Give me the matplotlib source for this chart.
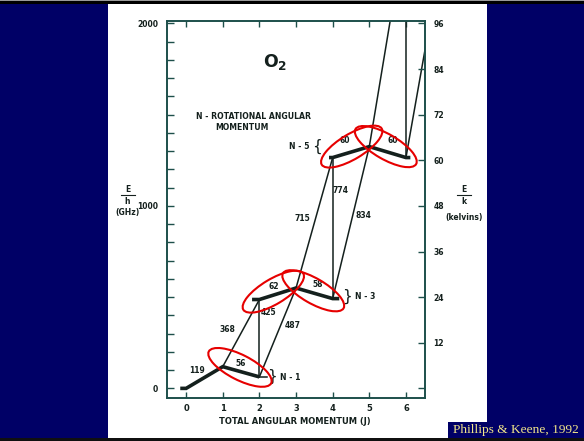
import numpy as np
import matplotlib.pyplot as plt
from matplotlib.patches import Rectangle, Ellipse
from matplotlib.lines import Line2D
from matplotlib.transforms import ScaledTranslation

# O2 rotational levels, E/h in GHz, grouped by N
n1_J = [0, 1, 2]
n1_E = [0, 119, 63]
n3_J = [2, 3, 4]
n3_E = [487, 550, 492]
n5_J = [4, 5, 6]
n5_E = [1265, 1325, 1265]
n7_J = [6, 7]
n7_E = [2535, 2400]          # above the top of the plot

# transitions between N groups: (J_lo, E_lo) -> (J_hi, E_hi)
cross_lo_J = [1, 2, 2, 3, 4, 4, 5, 6, 6]
cross_lo_E = [119, 63, 63, 550, 492, 492, 1325, 1265, 1265]
cross_hi_J = [2, 2, 3, 4, 4, 5, 6, 6, 7]
cross_hi_E = [487, 487, 550, 1265, 1265, 1325, 2535, 2535, 2400]

freq_labels = ["119", "56", "368", "425", "487", "62", "58", "715", "774", "834", "60", "60"]
freq_J = [0.30, 1.50, 1.12, 2.24, 2.91, 2.38, 3.59, 3.17, 4.22, 4.84, 4.32, 5.63]
freq_E = [96, 134, 323, 414, 342, 558, 571, 929, 1082, 947, 1358, 1358]

# red rings: centre (J, GHz) and tilt in degrees
ring_J = [1.47, 2.38, 3.47, 4.52, 5.45]
ring_E = [115, 530, 535, 1325, 1325]
ring_tilt = [-27, 31, -30, 31, -30]

ghz_ticks = [0, 1000, 2000]
kelvin_ticks = [0, 12, 24, 36, 48, 60, 72, 84, 96]
J_ticks = [0, 1, 2, 3, 4, 5, 6]

W, H = 584, 441
NAVY = "#000066"
INK = "#14201d"
SPINE = "#1d4f4a"
BOLD = dict(fontweight="bold", color=INK)

fig = plt.figure(figsize=(W / 100, H / 100), dpi=100, facecolor=NAVY)


def box(x0, y0, x1, y1, color):
    fig.add_artist(Rectangle((x0 / W, 1 - y1 / H), (x1 - x0) / W, (y1 - y0) / H,
                             transform=fig.transFigure, facecolor=color,
                             edgecolor="none", zorder=0))


def ftext(x, y, s, **kw):
    fig.text(x / W, 1 - y / H, s, ha="center", va="center", **kw)


# slide frame
box(0, 0, W, 4, "black")
box(0, 0, W, 1, "#9a9a9a")
box(108, 4, 487, 438, "white")
box(0, 438, W, H, "#101010")
box(448, 422, W, 438, NAVY)
fig.text(453 / W, 1 - 430 / H, "Phillips & Keene, 1992", family="Liberation Serif",
         fontsize=9.6, color="#f2e68a", va="center", ha="left")

ax = fig.add_axes([166.7 / W, 1 - 397.5 / H, (425 - 166.7) / W, (397.5 - 20.7) / H])
ax.set_facecolor("white")
ax.set_xlim(-0.53, 6.52)
ax.set_ylim(-50, 2015)

thick = dict(color=INK, lw=2.6, solid_capstyle="butt", solid_joinstyle="miter")
thin = dict(color=INK, lw=1.1)

# levels inside each N group, with short flat ends
for J, E, lcap, rcap in [(n1_J, n1_E, 0.16, 0.0), (n3_J, n3_E, 0.2, 0.18), (n5_J, n5_E, 0.1, 0.12)]:
    xs = [J[0] - lcap] + list(J) + [J[-1] + rcap]
    ys = [E[0]] + list(E) + [E[-1]]
    ax.plot(xs, ys, **thick)
ax.plot([n1_J[-1], n1_J[-1] + 0.22], [n1_E[-1], n1_E[-1]], **thin)

for j0, e0, j1, e1 in zip(cross_lo_J, cross_lo_E, cross_hi_J, cross_hi_E):
    ax.plot([j0, j1], [e0, e1], **thin)

for s, j, e in zip(freq_labels, freq_J, freq_E):
    ax.text(j, e, s, ha="center", va="center", fontsize=5.5, **BOLD)

ax.text(2.43, 1787, r"$\mathbf{O_2}$", ha="center", va="center", fontsize=12.5, color=INK)
ax.text(1.85, 1491, "N - ROTATIONAL ANGULAR", ha="center", va="center", fontsize=5.6, **BOLD)
ax.text(1.52, 1429, "MOMENTUM", ha="center", va="center", fontsize=5.6, **BOLD)

ax.text(3.08, 1325, "N - 5", ha="center", va="center", fontsize=5.6, **BOLD)
ax.text(3.57, 1325, "{", ha="center", va="center", fontsize=11, color=INK)
ax.text(4.40, 503, "}", ha="center", va="center", fontsize=11, color=INK)
ax.text(4.88, 503, "N - 3", ha="center", va="center", fontsize=5.6, **BOLD)
ax.text(2.34, 64, "}", ha="center", va="center", fontsize=11, color=INK)
ax.text(2.84, 61, "N - 1", ha="center", va="center", fontsize=5.6, **BOLD)

for j, e, t in zip(ring_J, ring_E, ring_tilt):
    tr = fig.dpi_scale_trans + ScaledTranslation(j, e, ax.transData)
    ax.add_patch(Ellipse((0, 0), 0.70, 0.25, angle=t, transform=tr, fill=False,
                         edgecolor="#e60000", lw=1.5, clip_on=False, zorder=5))

for sp in ax.spines.values():
    sp.set_color(SPINE)
    sp.set_linewidth(1.2)

ax.set_xticks(J_ticks)
ax.set_xticklabels([str(j) for j in J_ticks], fontsize=6, **BOLD)
ax.set_yticks(ghz_ticks)
ax.set_yticklabels([str(v) for v in ghz_ticks], fontsize=5.5, **BOLD)
ax.set_yticks(np.arange(100, 2000, 100), minor=True)
ax.tick_params(axis="x", which="both", direction="in", top=True, length=4, width=1,
               color=SPINE, pad=5)
ax.tick_params(axis="y", which="both", direction="in", length=5, width=1,
               color=SPINE, pad=6)

ax2 = ax.twinx()
ax2.set_ylim(ax.get_ylim()[0] * 0.048, ax.get_ylim()[1] * 0.048)
ax2.set_yticks(kelvin_ticks)
ax2.set_yticklabels([""] + [str(k) for k in kelvin_ticks[1:]], fontsize=5.5, **BOLD)
ax2.tick_params(axis="y", direction="in", length=5, width=1, color=SPINE, pad=6)
for sp in ax2.spines.values():
    sp.set_color(SPINE)
    sp.set_linewidth(1.2)

ftext(295, 421, "TOTAL ANGULAR MOMENTUM (J)", fontsize=6, **BOLD)

# E/h on the left, E/k on the right
for x, unit in [(127.5, "(GHz)"), (463.5, "(kelvins)")]:
    ftext(x, 189, "E", fontsize=5.5, **BOLD)
    fig.add_artist(Line2D([(x - 7) / W, (x + 7) / W], [1 - 195 / H, 1 - 195 / H],
                          transform=fig.transFigure, color=INK, lw=0.8))
    ftext(x, 201, "h" if unit == "(GHz)" else "k", fontsize=5.5, **BOLD)
ftext(127.5, 213, "(GHz)", fontsize=5.5, **BOLD)
ftext(464, 218, "(kelvins)", fontsize=5.5, **BOLD)

fig.savefig("out.png", dpi=100, facecolor=NAVY)
